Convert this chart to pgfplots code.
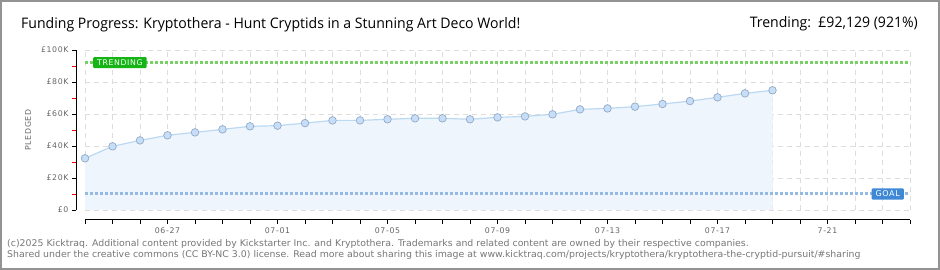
\documentclass[border=0pt]{standalone}
\usepackage{fontspec}
\usepackage{pgfplots}
\pgfplotsset{compat=1.18}
\setmainfont{DejaVu Sans}
\newfontfamily\titlefont[FakeStretch=0.97]{Open Sans}
\newfontfamily\pixfont[LetterSpace=8]{DejaVu Sans}
\newfontfamily\footfont[FakeStretch=1.02]{DejaVu Sans}
\definecolor{gridc}{HTML}{DDDDDD}
\definecolor{areac}{HTML}{EEF5FC}
\definecolor{linec}{HTML}{BBD9F3}
\definecolor{markf}{HTML}{C6DEF7}
\definecolor{markd}{HTML}{93A9C6}
\definecolor{trendc}{HTML}{78D066}
\definecolor{trendbox}{HTML}{14B514}
\definecolor{goalc}{HTML}{94B9E2}
\definecolor{goalbox}{HTML}{3F88D6}
\definecolor{labc}{HTML}{666666}
\definecolor{footc}{HTML}{777777}
\pgfplotstableread{
day pledged
0 32300
1 39800
2 43500
3 46700
4 48500
5 50400
6 52300
7 52700
8 54300
9 56000
10 56000
11 56700
12 57300
13 57300
14 56700
15 57900
16 58500
17 59800
18 62900
19 63500
20 64600
21 66250
22 68100
23 70400
24 72900
25 74800
}\pledgedtable
\begin{document}
\begin{tikzpicture}[x=1pt,y=1pt]
\useasboundingbox (0,0) rectangle (940,270);
\fill[white] (0,0) rectangle (940,270);
\begin{axis}[
  at={(85pt,60pt)}, anchor=south west,
  scale only axis, width=825pt, height=160pt,
  xmin=0, xmax=30, ymin=0, ymax=100000,
  axis x line=bottom, axis y line=left,
  axis line style={-, black, line width=1pt},
  axis x line shift=10pt, axis y line shift=9pt,
  xtick={3,7,11,15,19,23,27},
  xticklabels={06-27,07-01,07-05,07-09,07-13,07-17,7-21},
  minor xtick={0,...,30},
  ytick={0,20000,40000,60000,80000,100000},
  yticklabels={£0,£20K,£40K,£60K,£80K,£100K},
  scaled y ticks=false,
  extra y ticks={10000,30000,50000,70000,90000},
  extra y tick labels={},
  extra y tick style={grid=none, tick style={red, line width=0.8pt}},
  tick align=outside,
  major tick length=4pt, minor tick length=4pt,
  tick style={black, line width=0.8pt},
  xmajorgrids, xminorgrids, ymajorgrids,
  major grid style={gridc, dash pattern=on 5pt off 4pt, line width=0.8pt},
  minor grid style={gridc, dash pattern=on 5pt off 4pt, line width=0.8pt},
  tick label style={font=\pixfont\fontsize{7.8}{8}\selectfont, text=labc},
  clip=false,
]
\addplot[fill=areac, draw=none] table[x=day, y=pledged] {\pledgedtable} \closedcycle;
\addplot[trendc, line width=3pt, dash pattern=on 3pt off 2pt] coordinates {(0,92129) (30,92129)};
\addplot[goalc, line width=3pt, dash pattern=on 3pt off 2pt] coordinates {(0,10000) (30,10000)};
\addplot[linec, line width=1.2pt, mark=*, mark size=3.8pt,
  mark options={fill=markf, draw=markd, line width=0.7pt}] table[x=day, y=pledged] {\pledgedtable};
\node[anchor=west, fill=trendbox, text=white, inner xsep=4pt, inner ysep=2.5pt, rounded corners=1pt,
  font=\pixfont\fontsize{7.8}{8}\selectfont] at (axis cs:0.29,92129) {TRENDING};
\node[anchor=east, fill=goalbox, text=white, inner xsep=4pt, inner ysep=2.5pt, rounded corners=1pt,
  font=\pixfont\fontsize{8}{8}\selectfont] at (axis cs:29.78,10000) {GOAL};
\end{axis}
\node[rotate=90, font=\pixfont\fontsize{7.8}{8}\selectfont, text=labc] at (28,140) {PLEDGED};
\node[anchor=base west, inner sep=0pt, font=\titlefont\fontsize{14.5}{16}\selectfont] at (21,241)
  {Funding Progress: Kryptothera - Hunt Cryptids in a Stunning Art Deco World!};
\node[anchor=base east, inner sep=0pt, font=\titlefont\fontsize{14.5}{16}\selectfont] at (918,242)
  {Trending:\ \ £92,129 (921\%)};
\node[anchor=base west, inner sep=0pt, font=\footfont\fontsize{9.2}{10}\selectfont, text=footc] at (7,23)
  {(c)2025 Kicktraq. Additional content provided by Kickstarter Inc. and Kryptothera. Trademarks and related content are owned by their respective companies.};
\node[anchor=base west, inner sep=0pt, font=\footfont\fontsize{9.2}{10}\selectfont, text=footc] at (7,12)
  {Shared under the creative commons (CC BY-NC 3.0) license. Read more about sharing this image at www.kicktraq.com/projects/kryptothera/kryptothera-the-cryptid-pursuit/\#sharing};
\draw[gray!85, line width=2pt] (1,1) rectangle (939,269);
\end{tikzpicture}
\end{document}
